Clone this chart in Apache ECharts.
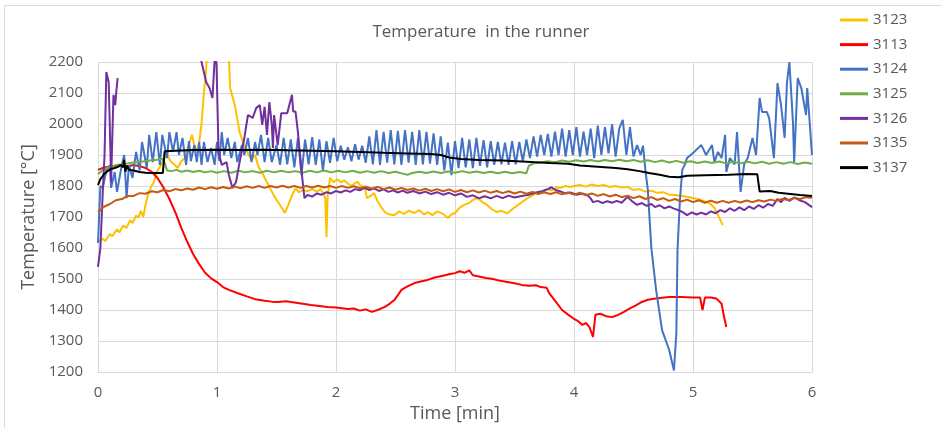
<!DOCTYPE html>
<html>
<head>
<meta charset="utf-8">
<script src="https://cdn.jsdelivr.net/npm/echarts@6/dist/echarts.min.js"></script>
<style>
  html, body { margin: 0; padding: 0; background: #ffffff; }
  #chart { width: 941px; height: 428px; }
</style>
</head>
<body>
<div id="chart"></div>
<script>
// Runner thermocouples: [time in min, temperature in °C]
const s3123 = [[0.00,1620],[0.04,1630],[0.06,1622],[0.10,1645],[0.12,1638],[0.16,1660],[0.18,1650],[0.21,1672],[0.24,1665],[0.27,1690],[0.29,1680],[0.32,1705],[0.34,1698],[0.36,1720],[0.38,1700],[0.40,1740],[0.42,1771],[0.45,1800],[0.47,1813],[0.50,1850],[0.53,1868],[0.56,1890],[0.58,1900],[0.61,1880],[0.64,1870],[0.67,1858],[0.70,1880],[0.73,1890],[0.76,1930],[0.79,1965],[0.81,1930],[0.84,1910],[0.87,2000],[0.89,2100],[0.905,2158],[0.935,2330],[1.09,2330],[1.11,2116],[1.15,2060],[1.19,1974],[1.23,1930],[1.26,1905],[1.29,1884],[1.32,1900],[1.35,1860],[1.38,1842],[1.42,1812],[1.45,1790],[1.48,1768],[1.51,1750],[1.54,1732],[1.57,1713],[1.60,1740],[1.63,1770],[1.66,1792],[1.69,1780],[1.72,1787],[1.76,1783],[1.80,1790],[1.84,1782],[1.87,1790],[1.90,1772],[1.91,1760],[1.92,1635],[1.93,1770],[1.95,1826],[1.98,1812],[2.01,1822],[2.04,1812],[2.07,1818],[2.10,1808],[2.13,1800],[2.16,1810],[2.18,1813],[2.21,1800],[2.24,1797],[2.26,1761],[2.29,1768],[2.32,1777],[2.35,1750],[2.38,1732],[2.41,1716],[2.45,1708],[2.49,1706],[2.53,1718],[2.57,1710],[2.61,1720],[2.66,1713],[2.70,1722],[2.74,1708],[2.77,1716],[2.81,1706],[2.85,1718],[2.90,1710],[2.94,1697],[2.97,1708],[3.00,1713],[3.04,1730],[3.08,1740],[3.12,1745],[3.15,1755],[3.19,1761],[3.23,1748],[3.27,1739],[3.31,1725],[3.35,1716],[3.39,1720],[3.44,1712],[3.48,1725],[3.53,1739],[3.57,1750],[3.61,1761],[3.65,1770],[3.69,1778],[3.73,1781],[3.77,1790],[3.81,1786],[3.85,1794],[3.89,1794],[3.93,1800],[3.97,1797],[4.00,1800],[4.05,1803],[4.10,1798],[4.15,1805],[4.20,1800],[4.25,1803],[4.30,1797],[4.35,1800],[4.40,1795],[4.45,1797],[4.50,1787],[4.55,1790],[4.60,1782],[4.65,1785],[4.70,1778],[4.75,1780],[4.80,1772],[4.85,1771],[4.90,1768],[4.95,1765],[5.00,1761],[5.05,1757],[5.10,1750],[5.14,1745],[5.18,1729],[5.21,1706],[5.25,1674]];

const s3113 = [[0.00,1852],[0.05,1860],[0.10,1862],[0.15,1865],[0.20,1866],[0.25,1864],[0.30,1868],[0.35,1864],[0.40,1858],[0.45,1846],[0.50,1826],[0.55,1795],[0.60,1758],[0.65,1715],[0.70,1665],[0.75,1620],[0.80,1580],[0.85,1548],[0.90,1520],[0.95,1502],[1.00,1490],[1.05,1474],[1.10,1465],[1.17,1455],[1.25,1444],[1.32,1435],[1.40,1430],[1.46,1427],[1.51,1426],[1.58,1428],[1.65,1424],[1.72,1420],[1.79,1416],[1.86,1413],[1.93,1410],[2.00,1408],[2.05,1406],[2.10,1403],[2.15,1405],[2.20,1398],[2.25,1402],[2.30,1394],[2.35,1400],[2.41,1410],[2.45,1420],[2.49,1432],[2.52,1448],[2.55,1465],[2.60,1476],[2.66,1487],[2.72,1493],[2.77,1497],[2.83,1505],[2.89,1510],[2.95,1515],[3.00,1519],[3.04,1525],[3.08,1520],[3.12,1528],[3.15,1512],[3.20,1508],[3.26,1503],[3.32,1500],[3.38,1494],[3.44,1490],[3.50,1486],[3.56,1481],[3.62,1478],[3.68,1480],[3.72,1474],[3.77,1472],[3.79,1455],[3.84,1430],[3.90,1400],[3.95,1385],[3.99,1374],[4.03,1365],[4.07,1352],[4.10,1358],[4.13,1345],[4.16,1313],[4.18,1385],[4.22,1388],[4.27,1380],[4.32,1377],[4.37,1384],[4.42,1394],[4.47,1405],[4.52,1415],[4.57,1426],[4.62,1433],[4.70,1438],[4.80,1442],[4.90,1442],[5.00,1440],[5.06,1440],[5.08,1400],[5.10,1440],[5.15,1440],[5.20,1436],[5.24,1420],[5.26,1380],[5.28,1345]];

const s3124 = [[0.00,1616],[0.02,1800],[0.04,1794],[0.07,1850],[0.10,1868],[0.11,1794],[0.14,1845],[0.16,1781],[0.20,1868],[0.22,1900],[0.24,1761],[0.26,1868],[0.29,1826],[0.32,1910],[0.35,1850],[0.37,1942],[0.41,1858],[0.43,1965],[0.46,1877],[0.49,1974],[0.52,1868],[0.54,1965],[0.58,1890],[0.60,1974],[0.63,1910],[0.66,1974],[0.68,1900],[0.71,1955],[0.74,1868],[0.765,1945],[0.78,1880],[0.81,1932],[0.83,1877],[0.85,1942],[0.87,1868],[0.89,1942],[0.92,1877],[0.95,1923],[0.98,1868],[1.00,1942],[1.02,1880],[1.04,1974],[1.06,1900],[1.09,1955],[1.12,1890],[1.15,1942],[1.17,1877],[1.21,1932],[1.23,1900],[1.26,1955],[1.29,1877],[1.32,1942],[1.34,1900],[1.37,1965],[1.40,1877],[1.43,1955],[1.46,1877],[1.50,1932],[1.53,1868],[1.56,1955],[1.59,1870],[1.62,1950],[1.65,1860],[1.68,1955],[1.71,1835],[1.74,1950],[1.77,1870],[1.80,1958],[1.83,1868],[1.86,1950],[1.89,1850],[1.92,1945],[1.95,1875],[1.98,1955],[2.01,1880],[2.04,1930],[2.07,1885],[2.10,1925],[2.13,1880],[2.16,1935],[2.19,1885],[2.22,1930],[2.25,1875],[2.28,1960],[2.31,1870],[2.34,1980],[2.37,1868],[2.40,1975],[2.43,1875],[2.46,1980],[2.49,1870],[2.52,1978],[2.55,1868],[2.58,1980],[2.61,1875],[2.64,1975],[2.67,1868],[2.70,1980],[2.73,1870],[2.76,1975],[2.79,1872],[2.82,1970],[2.85,1868],[2.88,1960],[2.91,1850],[2.94,1940],[2.97,1835],[3.00,1945],[3.03,1858],[3.06,1955],[3.09,1860],[3.12,1950],[3.15,1858],[3.18,1955],[3.21,1865],[3.24,1948],[3.27,1860],[3.30,1945],[3.33,1868],[3.36,1942],[3.39,1870],[3.42,1940],[3.45,1868],[3.48,1945],[3.51,1870],[3.54,1942],[3.57,1880],[3.60,1950],[3.63,1890],[3.66,1960],[3.69,1895],[3.72,1965],[3.75,1900],[3.78,1968],[3.81,1895],[3.84,1975],[3.87,1900],[3.90,1985],[3.93,1895],[3.96,1980],[3.99,1900],[4.02,1990],[4.05,1895],[4.08,1975],[4.11,1900],[4.14,1985],[4.17,1890],[4.20,1995],[4.23,1900],[4.26,1990],[4.29,1905],[4.32,2000],[4.35,1895],[4.38,1985],[4.41,2013],[4.44,1900],[4.47,1990],[4.50,1895],[4.53,1932],[4.56,1900],[4.58,1930],[4.60,1850],[4.62,1790],[4.65,1600],[4.69,1465],[4.74,1335],[4.80,1271],[4.84,1205],[4.86,1326],[4.87,1594],[4.89,1755],[4.91,1852],[4.93,1868],[4.95,1890],[5.01,1910],[5.07,1932],[5.11,1900],[5.16,1932],[5.18,1877],[5.21,1910],[5.24,1890],[5.27,1965],[5.28,1845],[5.31,1890],[5.35,1870],[5.37,1974],[5.40,1781],[5.43,1870],[5.46,1890],[5.50,1955],[5.53,1900],[5.56,2084],[5.58,2039],[5.62,2039],[5.64,2019],[5.68,1890],[5.71,2132],[5.74,2061],[5.77,1955],[5.79,2135],[5.81,2200],[5.84,2006],[5.85,1877],[5.88,2148],[5.91,2116],[5.95,2029],[5.96,2116],[6.00,1900]];

const s3125 = [[0.00,1838],[0.04,1852],[0.08,1858],[0.12,1864],[0.16,1868],[0.20,1870],[0.25,1873],[0.30,1876],[0.35,1878],[0.40,1880],[0.45,1883],[0.50,1885],[0.54,1888],[0.56,1875],[0.58,1850],[0.62,1848],[0.66,1852],[0.70,1846],[0.75,1850],[0.80,1845],[0.85,1849],[0.90,1844],[0.95,1848],[1.00,1843],[1.06,1848],[1.12,1843],[1.18,1849],[1.24,1844],[1.30,1848],[1.36,1843],[1.42,1849],[1.48,1844],[1.54,1849],[1.60,1844],[1.66,1848],[1.72,1843],[1.78,1849],[1.84,1844],[1.90,1850],[1.96,1844],[2.02,1849],[2.08,1844],[2.14,1849],[2.20,1843],[2.26,1848],[2.32,1843],[2.38,1848],[2.44,1842],[2.50,1846],[2.56,1840],[2.60,1836],[2.64,1842],[2.70,1846],[2.76,1842],[2.82,1847],[2.88,1842],[2.94,1847],[3.00,1843],[3.06,1848],[3.12,1843],[3.18,1847],[3.24,1842],[3.30,1846],[3.36,1841],[3.42,1846],[3.48,1841],[3.54,1845],[3.60,1841],[3.62,1865],[3.66,1873],[3.72,1876],[3.78,1880],[3.84,1877],[3.90,1882],[3.96,1878],[4.02,1883],[4.08,1879],[4.14,1884],[4.20,1879],[4.26,1884],[4.32,1880],[4.38,1885],[4.44,1880],[4.50,1884],[4.56,1878],[4.62,1883],[4.68,1877],[4.74,1882],[4.80,1876],[4.86,1881],[4.92,1875],[4.98,1880],[5.04,1874],[5.10,1879],[5.16,1874],[5.22,1879],[5.28,1873],[5.34,1878],[5.40,1873],[5.46,1878],[5.52,1873],[5.58,1878],[5.64,1872],[5.70,1877],[5.76,1872],[5.82,1877],[5.88,1871],[5.94,1876],[6.00,1872]];

const s3126 = [[0.00,1539],[0.02,1600],[0.04,1780],[0.055,1900],[0.07,2168],[0.09,2135],[0.105,1900],[0.11,1813],[0.13,2094],[0.145,2061],[0.155,2110],[0.165,2148],[0.17,null],[0.85,2240],[0.87,2200],[0.91,2135],[0.937,2116],[0.962,2084],[0.979,2200],[0.985,2240],[0.996,2190],[1.013,1910],[1.04,1868],[1.08,1877],[1.10,1835],[1.13,1794],[1.16,1813],[1.19,1877],[1.23,1955],[1.26,2029],[1.30,2020],[1.33,2052],[1.36,2061],[1.38,1997],[1.40,2055],[1.42,1965],[1.44,2071],[1.46,2000],[1.47,1923],[1.48,2029],[1.51,1932],[1.54,2035],[1.59,2035],[1.63,2094],[1.64,2040],[1.66,2040],[1.68,1974],[1.69,1932],[1.72,1813],[1.735,1761],[1.76,1771],[1.80,1766],[1.84,1776],[1.88,1772],[1.92,1780],[1.96,1776],[2.00,1784],[2.04,1779],[2.08,1786],[2.12,1781],[2.16,1790],[2.20,1786],[2.24,1794],[2.28,1787],[2.32,1792],[2.36,1784],[2.40,1789],[2.44,1781],[2.48,1786],[2.52,1779],[2.56,1785],[2.60,1778],[2.65,1784],[2.70,1776],[2.75,1782],[2.80,1774],[2.85,1780],[2.90,1772],[2.95,1778],[3.00,1770],[3.05,1776],[3.10,1765],[3.15,1770],[3.20,1760],[3.25,1767],[3.30,1760],[3.35,1768],[3.40,1761],[3.45,1769],[3.50,1763],[3.56,1768],[3.62,1772],[3.68,1779],[3.73,1783],[3.78,1790],[3.81,1796],[3.85,1786],[3.89,1782],[3.93,1776],[3.97,1779],[4.02,1772],[4.07,1776],[4.11,1771],[4.14,1760],[4.16,1748],[4.20,1752],[4.24,1745],[4.28,1751],[4.32,1746],[4.36,1752],[4.40,1746],[4.45,1765],[4.49,1750],[4.53,1739],[4.57,1745],[4.61,1736],[4.65,1742],[4.68,1732],[4.72,1738],[4.76,1728],[4.80,1734],[4.84,1727],[4.88,1722],[4.92,1714],[4.95,1706],[4.99,1715],[5.03,1708],[5.07,1714],[5.11,1708],[5.15,1718],[5.19,1712],[5.23,1722],[5.27,1716],[5.31,1728],[5.35,1720],[5.39,1731],[5.43,1722],[5.47,1734],[5.51,1726],[5.55,1738],[5.59,1730],[5.63,1742],[5.67,1736],[5.71,1758],[5.74,1748],[5.77,1762],[5.81,1752],[5.85,1763],[5.89,1755],[5.94,1748],[5.97,1740],[6.00,1732]];

const s3135 = [[0.00,1716],[0.05,1733],[0.10,1742],[0.15,1754],[0.20,1758],[0.25,1768],[0.30,1768],[0.35,1777],[0.40,1775],[0.45,1783],[0.50,1780],[0.55,1787],[0.60,1783],[0.65,1790],[0.70,1786],[0.75,1792],[0.80,1788],[0.85,1795],[0.90,1790],[0.95,1796],[1.00,1791],[1.05,1797],[1.10,1792],[1.15,1798],[1.20,1793],[1.25,1799],[1.30,1794],[1.35,1800],[1.40,1794],[1.45,1800],[1.50,1795],[1.55,1801],[1.60,1795],[1.65,1800],[1.70,1794],[1.75,1800],[1.80,1795],[1.85,1801],[1.90,1795],[1.95,1800],[2.00,1794],[2.05,1800],[2.10,1794],[2.15,1799],[2.20,1793],[2.25,1798],[2.30,1791],[2.35,1797],[2.40,1790],[2.45,1795],[2.50,1788],[2.55,1794],[2.60,1787],[2.65,1792],[2.70,1785],[2.75,1791],[2.80,1784],[2.85,1790],[2.90,1783],[2.95,1789],[3.00,1781],[3.05,1787],[3.10,1780],[3.15,1786],[3.20,1779],[3.25,1785],[3.30,1778],[3.35,1784],[3.40,1777],[3.45,1783],[3.50,1776],[3.55,1782],[3.60,1775],[3.65,1781],[3.70,1774],[3.75,1780],[3.80,1774],[3.85,1780],[3.90,1773],[3.95,1779],[4.00,1772],[4.05,1778],[4.10,1770],[4.15,1776],[4.20,1768],[4.25,1774],[4.30,1766],[4.35,1772],[4.40,1764],[4.45,1769],[4.50,1761],[4.55,1767],[4.60,1758],[4.65,1764],[4.70,1755],[4.75,1761],[4.80,1752],[4.85,1758],[4.90,1750],[4.95,1756],[5.00,1748],[5.05,1754],[5.10,1746],[5.15,1753],[5.20,1746],[5.25,1752],[5.30,1746],[5.35,1752],[5.40,1747],[5.45,1753],[5.50,1748],[5.55,1754],[5.60,1750],[5.65,1756],[5.70,1752],[5.75,1758],[5.80,1755],[5.85,1761],[5.90,1758],[5.95,1764],[6.00,1762]];

const s3137 = [[0.00,1803],[0.02,1822],[0.05,1838],[0.08,1848],[0.11,1855],[0.14,1858],[0.17,1862],[0.19,1868],[0.21,1860],[0.22,1884],[0.23,1846],[0.245,1866],[0.26,1852],[0.30,1850],[0.35,1845],[0.40,1843],[0.45,1842],[0.50,1842],[0.545,1842],[0.56,1912],[0.65,1914],[0.80,1916],[1.00,1917],[1.20,1916],[1.40,1917],[1.60,1915],[1.80,1914],[2.00,1912],[2.20,1910],[2.40,1907],[2.60,1905],[2.80,1903],[2.88,1900],[2.95,1892],[3.05,1887],[3.20,1884],[3.40,1882],[3.60,1878],[3.80,1874],[3.95,1872],[4.05,1866],[4.20,1862],[4.35,1858],[4.45,1854],[4.55,1848],[4.63,1842],[4.72,1836],[4.80,1830],[4.88,1828],[4.95,1833],[5.10,1835],[5.30,1836],[5.45,1839],[5.54,1838],[5.56,1782],[5.65,1784],[5.72,1778],[5.80,1775],[5.90,1771],[6.00,1768]];

const seriesNames = ['3123', '3113', '3124', '3125', '3126', '3135', '3137'];
const seriesData = [s3123, s3113, s3124, s3125, s3126, s3135, s3137];
const seriesColors = ['#FFC000', '#FF0000', '#4472C4', '#70AD47', '#7030A0', '#C55A11', '#000000'];

const xTicks = { min: 0, max: 6, step: 1 };
const yTicks = { min: 1200, max: 2200, step: 100 };

const FONT = 'Open Sans';
const TEXT = '#595959';
const GRID = '#d9d9d9';

const chart = echarts.init(document.getElementById('chart'), null, { renderer: 'canvas' });

chart.setOption({
  animation: false,
  backgroundColor: '#ffffff',
  title: {
    text: 'Temperature  in the runner',
    left: 476,
    top: 19,
    textAlign: 'center',
    textStyle: { fontFamily: FONT, fontSize: 17, fontWeight: 'normal', color: TEXT }
  },
  legend: {
    orient: 'vertical',
    left: 835,
    top: 7,
    itemWidth: 28,
    itemHeight: 3,
    itemGap: 8.6,
    icon: 'rect',
    textStyle: { fontFamily: FONT, fontSize: 15, color: TEXT, lineHeight: 16 },
    data: seriesNames
  },
  grid: { left: 98, top: 62, right: 129, bottom: 56, containLabel: false },
  xAxis: {
    type: 'value',
    min: xTicks.min,
    max: xTicks.max,
    interval: xTicks.step,
    name: 'Time [min]',
    nameLocation: 'middle',
    nameGap: 33,
    nameTextStyle: { fontFamily: FONT, fontSize: 18, color: TEXT },
    axisLine: { show: true, lineStyle: { color: GRID, width: 1 } },
    axisTick: { show: false },
    axisLabel: { fontFamily: FONT, fontSize: 15, color: TEXT, margin: 13 },
    splitLine: { show: true, lineStyle: { color: GRID, width: 1 } }
  },
  yAxis: {
    type: 'value',
    min: yTicks.min,
    max: yTicks.max,
    interval: yTicks.step,
    name: 'Temperature [°C]',
    nameLocation: 'middle',
    nameGap: 51,
    nameTextStyle: { fontFamily: FONT, fontSize: 18, color: TEXT },
    axisLine: { show: false },
    axisTick: { show: false },
    axisLabel: { fontFamily: FONT, fontSize: 15, color: TEXT, margin: 15, formatter: (v) => String(v) },
    splitLine: { show: true, lineStyle: { color: GRID, width: 1 } }
  },
  graphic: [
    { type: 'line', shape: { x1: 4.5, y1: 5.5, x2: 941, y2: 5.5 }, style: { stroke: GRID, lineWidth: 1 }, silent: true },
    { type: 'line', shape: { x1: 4.5, y1: 5.5, x2: 4.5, y2: 428 }, style: { stroke: GRID, lineWidth: 1 }, silent: true }
  ],
  series: seriesNames.map((name, i) => ({
    name: name,
    type: 'line',
    data: seriesData[i],
    showSymbol: false,
    symbol: 'none',
    connectNulls: false,
    clip: true,
    lineStyle: { color: seriesColors[i], width: 2 },
    itemStyle: { color: seriesColors[i] },
    emphasis: { disabled: true },
    z: 2 + i
  }))
});
</script>
</body>
</html>
